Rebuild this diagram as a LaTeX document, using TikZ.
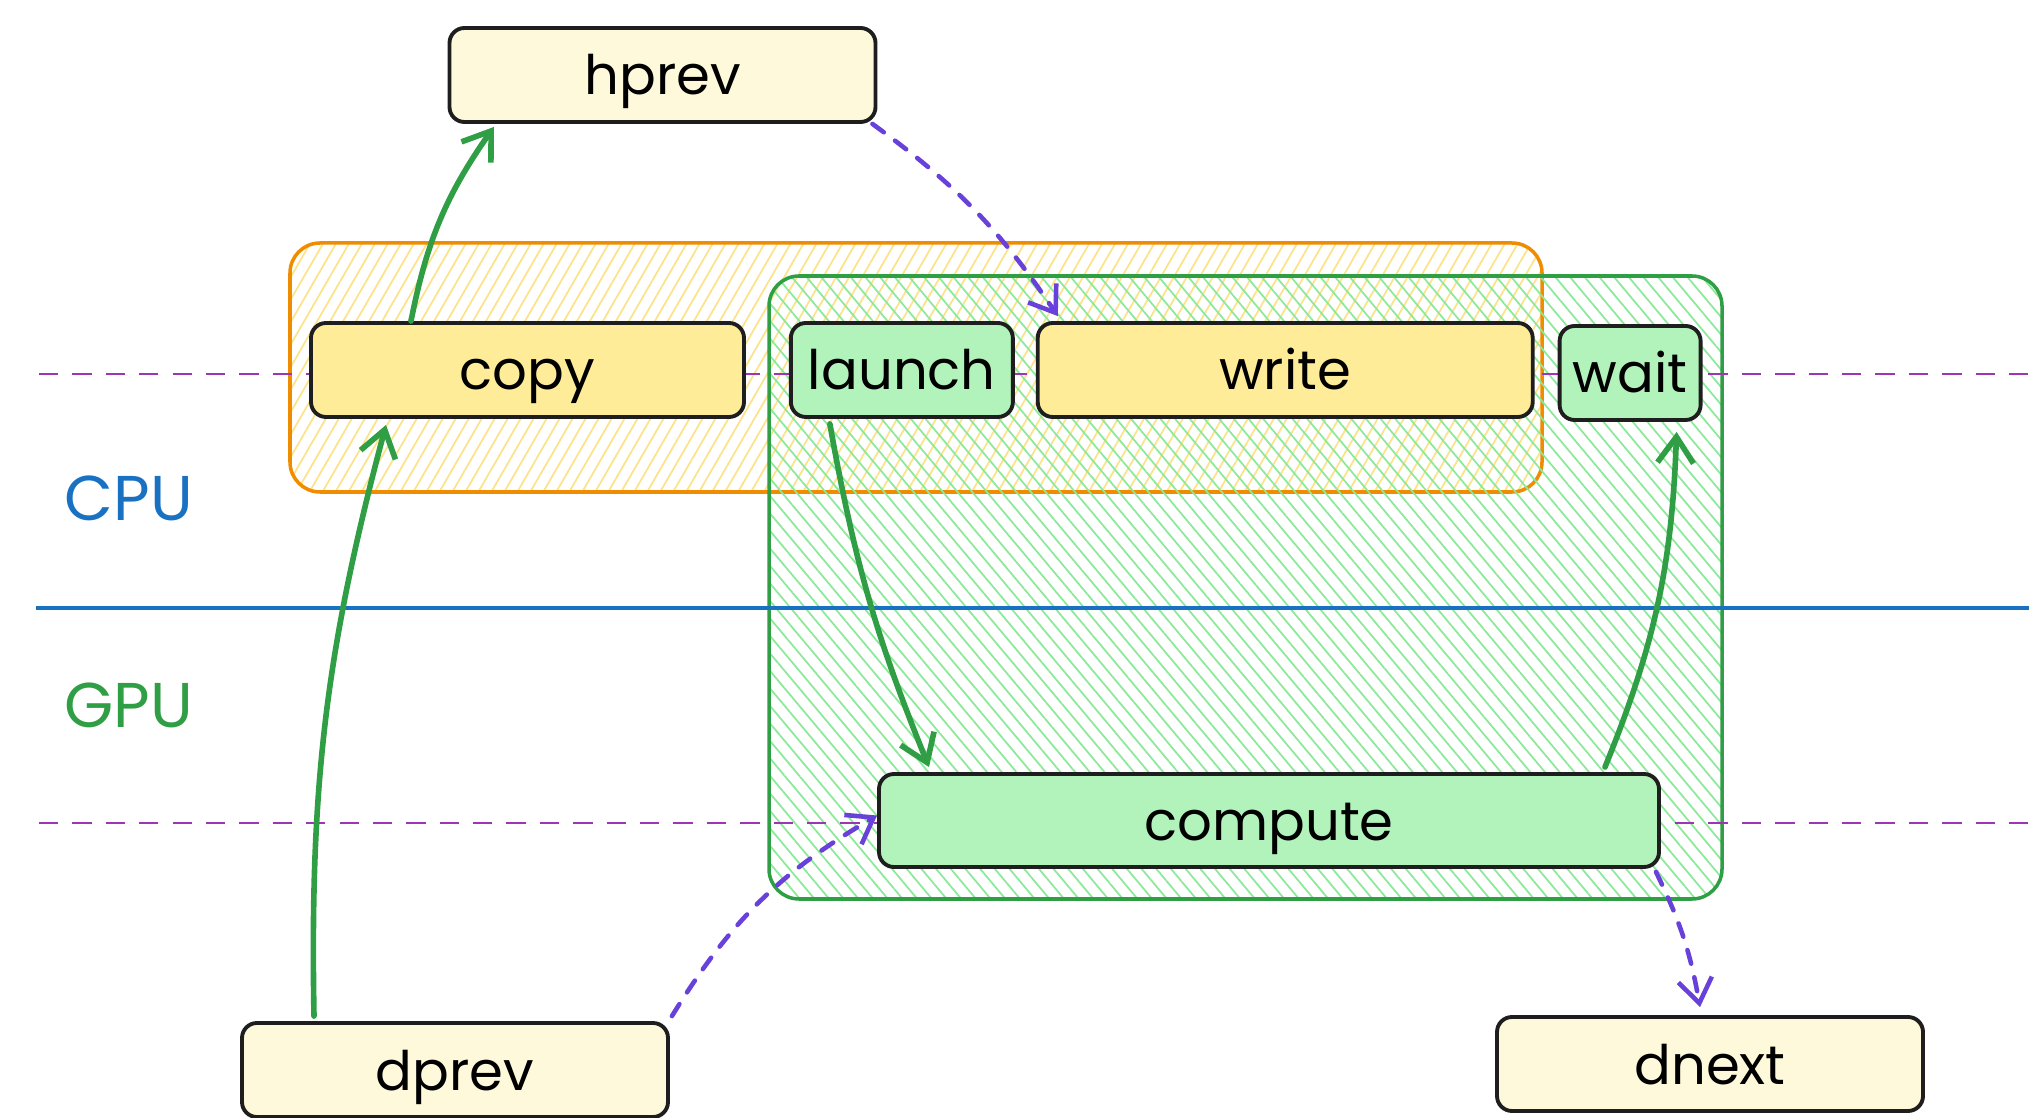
\documentclass[tikz,border=0pt]{standalone}
\usepackage{fontspec}
\setmainfont{Poppins}
\usepackage{xcolor}
\usetikzlibrary{positioning, arrows.meta, patterns.meta}

\definecolor{ink}{HTML}{1E1E1E}
\definecolor{paleyellow}{HTML}{FFF9DB}
\definecolor{hostyellow}{HTML}{FFEC99}
\definecolor{hatchyellow}{HTML}{FCE38A}
\definecolor{devgreen}{HTML}{B2F2BB}
\definecolor{hatchgreen}{HTML}{8CE99A}
\definecolor{strokegreen}{HTML}{2F9E44}
\definecolor{strokeorange}{HTML}{F08C00}
\definecolor{syncviolet}{HTML}{6741D9}
\definecolor{laneblue}{HTML}{1971C2}
\definecolor{grape}{HTML}{9C36B5}

\begin{document}
\begin{tikzpicture}[
      node distance=3mm and 2.1mm,
      box/.style={draw=ink, line width=1.1pt, rounded corners=1.5mm, minimum height=0.94cm, inner sep=0pt, text height=0.5cm, text depth=0.1cm, font=\fontsize{15.5}{18}\selectfont},
      buf/.style={box, fill=paleyellow, minimum width=4.26cm},
      host/.style={box, fill=hostyellow},
      dev/.style={box, fill=devgreen},
      hostgroup/.style={draw=strokeorange, line width=1pt, rounded corners=3mm, pattern={Lines[angle=60, distance=3.2pt, line width=0.5pt]}, pattern color=hatchyellow},
      devgroup/.style={draw=strokegreen, line width=1pt, rounded corners=3mm, pattern={Lines[angle=-50, distance=3.2pt, line width=0.5pt]}, pattern color=hatchgreen},
      guide/.style={grape, line width=0.8pt, dash pattern=on 5.5pt off 4pt},
      lane/.style={font=\fontsize{18}{20}\selectfont},
      flow/.style={strokegreen, line width=1.6pt, line cap=round, -{Straight Barb[length=2.6mm, width=3.6mm]}},
      sync/.style={syncviolet, line width=1.3pt, line cap=round, dash pattern=on 4pt off 4pt, -{Straight Barb[length=2.4mm, width=3.4mm]}}
    ]
    \useasboundingbox (0,0) rectangle (20.29,-11.18);

    % host and device work regions
    \node[hostgroup, minimum width=12.52cm, minimum height=2.49cm] (hostwork) at (9.16,-3.675) {};
    \node[devgroup, minimum width=9.53cm, minimum height=6.23cm] (devwork) at (12.455,-5.875) {};

    % stream guides and the CPU/GPU split
    \draw[guide] (0.39,-3.74) -- (20.29,-3.74);
    \draw[guide] (0.39,-8.23) -- (20.29,-8.23);
    \draw[laneblue, line width=1pt] (0.36,-6.08) -- (20.29,-6.08);

    \node[lane, text=laneblue] (cpu) at (1.29,-4.98) {CPU};
    \node[lane, text=strokegreen] (gpu) at (1.29,-7.05) {GPU};

    \node[buf] (hprev) at (6.625,-0.75) {hprev};

    \node[host, minimum width=4.33cm] (copy) at (5.275,-3.70) {copy};
    \node[dev, minimum width=2.22cm, right=4.3mm of copy] (launch) {launch};
    \node[host, minimum width=4.95cm, right=of launch] (write) {write};
    \node[dev, minimum width=1.41cm, right=2.3mm of write, yshift=-0.3mm] (wait) {wait};

    \node[dev, minimum width=7.8cm, minimum height=0.93cm] (compute) at (12.69,-8.205) {compute};

    \node[buf] (dprev) at (4.55,-10.70) {dprev};
    \node[buf] (dnext) at (17.10,-10.64) {dnext};

    \draw[flow] ([xshift=-1.165cm]copy.north) to[bend left=12] ([xshift=-1.685cm, yshift=-0.3mm]hprev.south);
    \draw[flow] ([xshift=-1.41cm, yshift=0.5mm]dprev.north) to[bend left=8] ([xshift=-1.415cm, yshift=-0.6mm]copy.south);
    \draw[flow] ([xshift=-0.72cm, yshift=-0.5mm]launch.south) to[bend right=6] ([xshift=-3.40cm, yshift=0.5mm]compute.north);
    \draw[flow] ([xshift=3.36cm, yshift=0.5mm]compute.north) to[bend right=10] ([xshift=0.465cm, yshift=-1mm]wait.south);

    \draw[sync] ([xshift=-0.05cm]hprev.south east) to[bend left=10] ([xshift=0.22cm, yshift=0.5mm]write.north west);
    \draw[sync] ([xshift=0.02cm, yshift=0.5mm]dprev.north east) to[bend left=14] ([yshift=0.05cm]compute.west);
    \draw[sync] ([xshift=-0.05cm, yshift=-0.03cm]compute.south east) to[bend left=8] ([xshift=-0.10cm, yshift=0.8mm]dnext.north);
  \end{tikzpicture}
\end{document}
